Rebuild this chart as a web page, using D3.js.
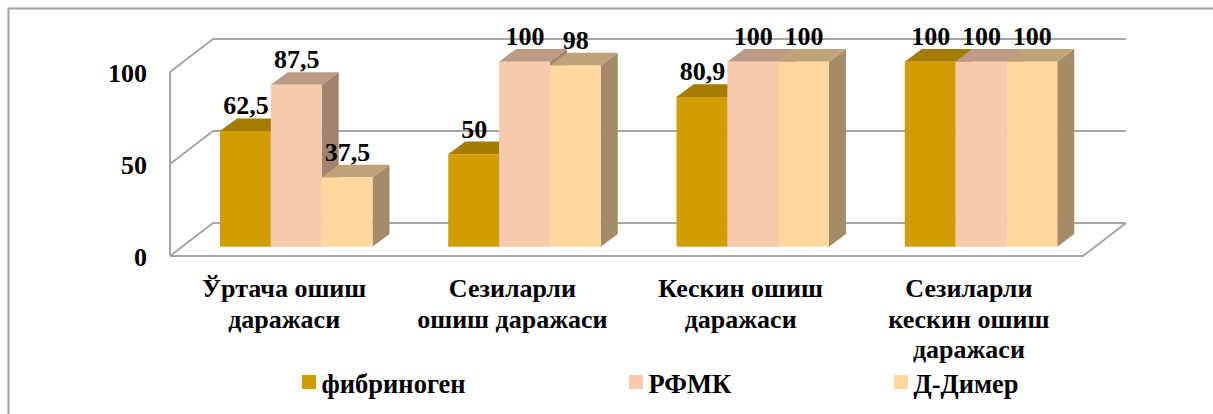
<!DOCTYPE html>
<html>
<head>
<meta charset="utf-8">
<script src="https://cdn.jsdelivr.net/npm/d3@7"></script>
<style>
  html, body { margin: 0; padding: 0; background: #fff; }
  svg { display: block; }
  text { font-family: "Liberation Serif", serif; font-weight: bold; fill: #000; }
</style>
</head>
<body>
<div id="chart"></div>
<script>
const categories = [
  ["Ўртача ошиш", "даражаси"],
  ["Сезиларли", "ошиш даражаси"],
  ["Кескин ошиш", "даражаси"],
  ["Сезиларли", "кескин ошиш", "даражаси"]
];
const seriesNames = ["фибриноген", "РФМК", "Д-Димер"];
const fibrinogen = [62.5, 50, 80.9, 100];
const rfmk = [87.5, 100, 100, 100];
const dDimer = [37.5, 98, 100, 100];
const tickValues = [0, 50, 100];

const w = 1213, h = 414;
const svg = d3.select('#chart').append('svg').attr('width', w).attr('height', h);

// colours for front, top and side faces of each series
const front = ['#d29d00', '#f7caac', '#fed79d'];
const top_ = ['#a67c00', '#bc9a83', '#bfa378'];
const side = ['#a27c00', '#a1836f', '#a68c66'];

// chart border, only top and left show in the crop
svg.append('path').attr('d', 'M8.5,414V8.5H1213')
   .attr('fill', 'none').attr('stroke', '#a3a3a3').attr('stroke-width', 2);

const x0 = d3.scaleBand().domain(d3.range(categories.length)).range([170, 1083]);
const wallY = d3.scaleLinear().domain([0, 100]).range([256, 72]);
const barY = d3.scaleLinear().domain([0, 100]).range([246.7, 61.7]);
const x1 = d3.scaleBand().domain(d3.range(seriesNames.length)).range([50, 202.5]);

const wallDx = 43, wallDy = -33;
const barDx = 17, barDy = -12.7;

// walls and grid
const wall = svg.append('g').attr('fill', 'none').attr('stroke', '#a6a6a6').attr('stroke-width', 2);
tickValues.forEach(t => {
  const y = wallY(t);
  wall.append('path').attr('d', d3.line()([[170, y], [170 + wallDx, y + wallDy], [1083 + wallDx, y + wallDy]]));
});
wall.append('line').attr('x1', 170).attr('x2', 170).attr('y1', wallY(0)).attr('y2', wallY(100));
wall.append('path').attr('d', d3.line()([[170, wallY(0)], [1083, wallY(0)], [1083 + wallDx, wallY(0) + wallDy]]));

// y tick labels
svg.append('g').selectAll('text').data(tickValues).enter().append('text')
   .attr('x', 147).attr('y', d => wallY(d) + 9.5).attr('text-anchor', 'end')
   .attr('font-size', 26).text(d => d);

// bars, left to right so that the next bar hides the side face
const seriesValues = [fibrinogen, rfmk, dDimer];
const labels = [];
categories.forEach((c, i) => {
  seriesValues.forEach((vals, s) => {
    const v = vals[i];
    const xl = x0(i) + x1(s), xr = xl + x1.bandwidth();
    const yt = barY(v), yb = barY(0);
    const g = svg.append('g');
    g.append('path').attr('fill', side[s])
     .attr('d', d3.line()([[xr, yt], [xr + barDx, yt + barDy], [xr + barDx, yb + barDy], [xr, yb]]) + 'Z');
    g.append('path').attr('fill', top_[s])
     .attr('d', d3.line()([[xl, yt], [xl + barDx, yt + barDy], [xr + barDx, yt + barDy], [xr, yt]]) + 'Z');
    g.append('rect').attr('x', xl).attr('y', yt).attr('width', x1.bandwidth()).attr('height', yb - yt).attr('fill', front[s]);
    labels.push({ x: (xl + xr) / 2 + 0.5, y: yt + barDy - 4, v: v });
  });
});

// value labels, decimal comma
svg.append('g').selectAll('text').data(labels).enter().append('text')
   .attr('x', d => d.x).attr('y', d => d.y).attr('text-anchor', 'middle')
   .attr('font-size', 26).text(d => String(d.v).replace('.', ','));

// category labels
categories.forEach((c, i) => {
  const t = svg.append('text').attr('text-anchor', 'middle').attr('font-size', 26);
  c.forEach((line, j) => {
    t.append('tspan').attr('x', x0(i) + x0.bandwidth() / 2).attr('y', 297 + j * 30.5).text(line);
  });
});

// legend
const legendX = [302, 629, 894];
const legend = svg.append('g').selectAll('g').data(seriesNames).enter().append('g')
   .attr('transform', (d, i) => 'translate(' + legendX[i] + ',375)');
legend.append('rect').attr('width', 14).attr('height', 14).attr('fill', (d, i) => front[i]);
legend.append('text').attr('x', 19.5).attr('y', 18).attr('font-size', 26.5).text(d => d);
</script>
</body>
</html>
